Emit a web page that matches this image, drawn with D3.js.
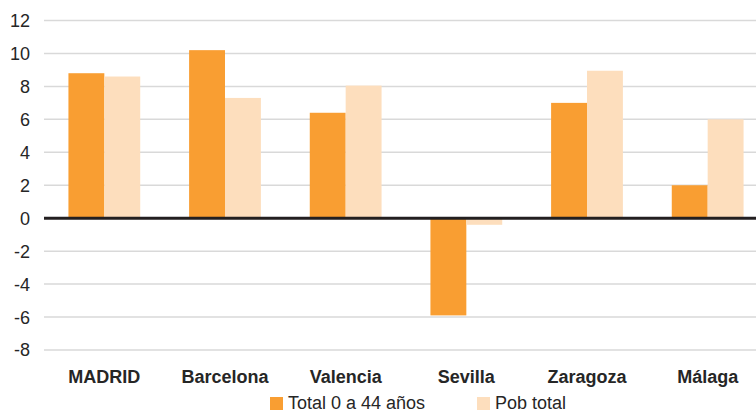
<!DOCTYPE html>
<html>
<head>
<meta charset="utf-8">
<script src="https://cdn.jsdelivr.net/npm/d3@7"></script>
<style>
  body { margin: 0; background: #fff; }
  svg text { font-family: "Liberation Sans", Arial, sans-serif; fill: #262626; }
</style>
</head>
<body>
<div id="chart"></div>
<script>
var ciudades = ["MADRID", "Barcelona", "Valencia", "Sevilla", "Zaragoza", "Málaga"];
var total0a44 = [8.8, 10.2, 6.4, -5.9, 7.0, 2.0];
var pobTotal = [8.6, 7.3, 8.05, -0.4, 8.95, 6.0];
var yTicks = [12, 10, 8, 6, 4, 2, 0, -2, -4, -6, -8];
var seriesNames = ["Total 0 a 44 años", "Pob total"];
var colores = ["#f99e32", "#fddebd"];

var width = 756, height = 412;

var svg = d3.select("#chart")
    .append("svg")
    .attr("width", width)
    .attr("height", height);

var x = d3.scaleBand()
    .domain(ciudades)
    .range([44, 768])
    .paddingInner(0.405)
    .paddingOuter(0.2025);

var x1 = d3.scaleBand()
    .domain([0, 1])
    .range([0, x.bandwidth()]);

var y = d3.scaleLinear()
    .domain([-8, 12])
    .range([350, 20.5]);

// grid lines
svg.append("g")
    .selectAll("line")
    .data(yTicks.filter(function (d) { return d !== 0; }))
    .enter()
    .append("line")
    .attr("x1", 44)
    .attr("x2", width)
    .attr("y1", function (d) { return y(d); })
    .attr("y2", function (d) { return y(d); })
    .attr("stroke", "#d9d9d9")
    .attr("stroke-width", 1.5);

// y labels
svg.append("g")
    .selectAll("text")
    .data(yTicks)
    .enter()
    .append("text")
    .attr("x", 30)
    .attr("y", function (d) { return y(d); })
    .attr("dy", "0.36em")
    .attr("text-anchor", "end")
    .style("font-size", "18px")
    .text(function (d) { return d; });

// bars
var series = [total0a44, pobTotal];
var grupos = svg.append("g")
    .selectAll("g")
    .data(ciudades)
    .enter()
    .append("g")
    .attr("transform", function (d) { return "translate(" + x(d) + ",0)"; });

grupos.selectAll("rect")
    .data(function (d, i) {
        return series.map(function (s, k) { return { k: k, v: s[i] }; });
    })
    .enter()
    .append("rect")
    .attr("x", function (d) { return x1(d.k); })
    .attr("width", x1.bandwidth())
    .attr("y", function (d) { return y(Math.max(0, d.v)); })
    .attr("height", function (d) { return Math.abs(y(d.v) - y(0)); })
    .attr("fill", function (d) { return colores[d.k]; });

// zero line
svg.append("line")
    .attr("x1", 44)
    .attr("x2", width)
    .attr("y1", y(0))
    .attr("y2", y(0))
    .attr("stroke", "#231f20")
    .attr("stroke-width", 3);

// category labels
svg.append("g")
    .selectAll("text")
    .data(ciudades)
    .enter()
    .append("text")
    .attr("x", function (d) { return x(d) + x.bandwidth() / 2; })
    .attr("y", 383)
    .attr("text-anchor", "middle")
    .style("font-size", "18px")
    .style("font-weight", "bold")
    .text(function (d) { return d; });

// legend
var legendX = [270, 477];
var leyenda = svg.append("g")
    .selectAll("g")
    .data(seriesNames)
    .enter()
    .append("g")
    .attr("transform", function (d, i) { return "translate(" + legendX[i] + ",397)"; });

leyenda.append("rect")
    .attr("width", 13)
    .attr("height", 13)
    .attr("fill", function (d, i) { return colores[i]; });

leyenda.append("text")
    .attr("x", 18)
    .attr("y", 12)
    .style("font-size", "18px")
    .text(function (d) { return d; });
</script>
</body>
</html>
